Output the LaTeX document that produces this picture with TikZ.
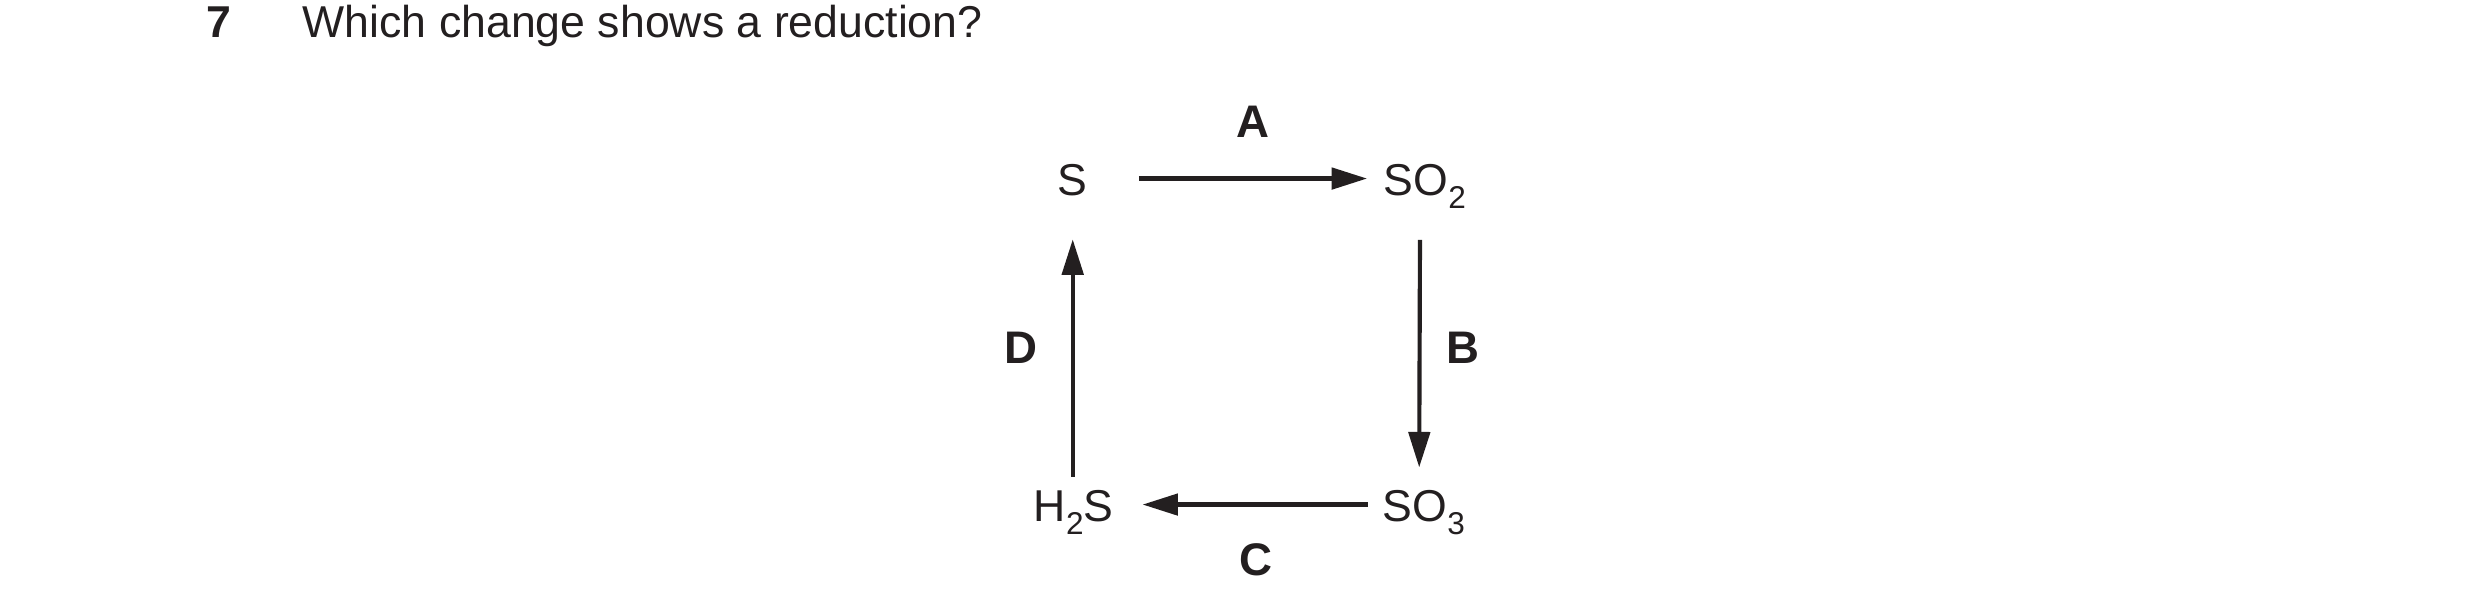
\documentclass[tikz,border=0pt]{standalone}
\usepackage{fontspec}
\setmainfont{Liberation Sans}
\usetikzlibrary{arrows.meta}
\definecolor{ink}{HTML}{231F20}
\tikzstyle{species}=[inner sep=0pt,text height=8.4pt,text depth=0pt,anchor=base west,font=\fontsize{10.75}{13}\selectfont,text=ink]
\tikzstyle{question}=[inner sep=0pt,anchor=base west,font=\fontsize{10.75}{13}\selectfont,text=ink]
\tikzstyle{route}=[inner sep=0pt,font=\fontsize{11}{13}\selectfont\bfseries,text=ink]
\tikzstyle{reaction}=[draw=ink,line width=1pt,-{Triangle[length=3mm,width=1.8mm]}]
\newcommand{\chsub}[1]{\raisebox{-3pt}{\fontsize{7.6}{9}\selectfont #1}}
\newcommand{\pxunit}{0.08467mm}

\begin{document}
\begin{tikzpicture}[x=\pxunit,y=-\pxunit]
    \useasboundingbox (0,0) rectangle (2480,614);
    % question
    \node[question,font=\fontsize{10.75}{13}\selectfont\bfseries] (qnum) at (206,38) {7};
    \node[question] (qtext) at (302,38) {Which change shows a reduction?};
    % species
    \node[species] (S)   at (1057,196) {S};
    \node[species] (SO2) at (1383,196) {SO\chsub{2}};
    \node[species] (SO3) at (1382,522) {SO\chsub{3}};
    \node[species] (H2S) at (1033,522) {H\chsub{2}S};
    % changes
    \draw[reaction,shorten <=4.28mm,shorten >=1.35mm] (S.east) -- (SO2.west)
        node[route,pos=0.56,above=3.3mm] (labA) {A};
    \draw[reaction,shorten <=3.64mm,shorten >=1.6mm] ([xshift=-0.4mm]SO2.south) -- ([xshift=-0.4mm]SO3.north)
        node[route,pos=0.52,right=2.1mm] (labB) {B};
    \draw[reaction,shorten <=1.2mm,shorten >=2.4mm] (SO3.west) -- (H2S.east)
        node[route,pos=0.47,below=3.1mm] (labC) {C};
    \draw[reaction,shorten <=0.8mm,shorten >=3.6mm] (S.south |- H2S.north) -- (S.south)
        node[route,pos=0.48,left=2.8mm] (labD) {D};
\end{tikzpicture}
\end{document}
